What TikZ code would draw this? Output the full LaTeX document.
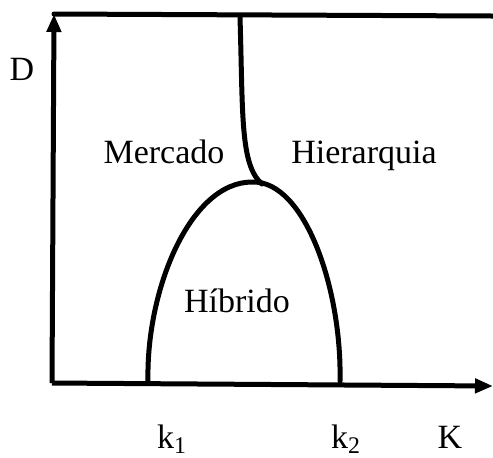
\documentclass[tikz,border=0pt]{standalone}
\usepackage{fontspec}
\setmainfont{Liberation Serif}
\usetikzlibrary{arrows.meta}

\begin{document}
\begin{tikzpicture}[
  x=0.5pt, y=-0.5pt,
  font=\fontsize{17}{20}\selectfont,
  >={Triangle[length=9pt,width=7pt]},
  axis/.style={->, line width=2.5pt, draw=black},
  curve/.style={line width=2.5pt, draw=black, line cap=round},
  region/.style={inner sep=0pt, anchor=base},
  tick/.style={inner sep=0pt, anchor=base}
]
\useasboundingbox (0,0) rectangle (493,457);

% Axes and upper border.
\coordinate (origin) at (52,383);
\coordinate (ytop) at (54,14);
\coordinate (xend) at (493,386);
\coordinate (topend) at (493,16);
\draw[axis] (origin) -- (ytop);
\draw[axis] (origin) -- (xend);
\draw[curve] (ytop) -- (topend);

% Boundaries between the regions.
\coordinate (k1base) at (148,381);
\coordinate (apex) at (252,182);
\coordinate (k2base) at (340,381);
\coordinate (split) at (262,184);
\coordinate (topsplit) at (240,17);
\draw[curve] (k1base) .. controls (146,290) and (190,182) .. (apex)
  .. controls (305,180) and (342,290) .. (k2base);
\draw[curve] (topsplit) .. controls (243,115) and (240,165) .. (split);

% Region and axis labels.
\node[region] (mercado) at (164,163) {Mercado};
\node[region] (hierarquia) at (364,163) {Hierarquia};
\node[region] (hibrido) at (237,312) {Híbrido};
\node[region] (dlabel) at (22,80) {D};
\node[tick] (k1) at (172,448) {k\textsubscript{1}};
\node[tick] (k2) at (346,448) {k\textsubscript{2}};
\node[tick] (klabel) at (450,448) {K};

\end{tikzpicture}
\end{document}
